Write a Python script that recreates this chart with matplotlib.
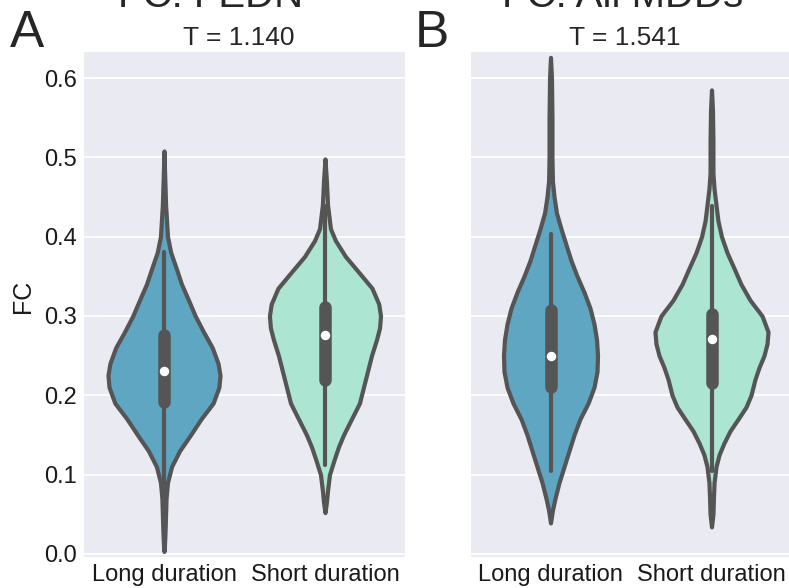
import matplotlib
matplotlib.use('Agg')
import matplotlib.pyplot as plt
import seaborn as sns

# --- dados ---
groups = ['Long duration', 'Short duration']
panel_titles = ['FC: FEDN', 'FC: All MDDs']
t_values = ['T = 1.140', 'T = 1.541']
panel_letters = ['A', 'B']
y_ticks = [0.0, 0.1, 0.2, 0.3, 0.4, 0.5, 0.6]

# contorno dos violinos: nível de FC -> meia largura (unidades do eixo x)
fedn_long_fc = [0.003, 0.01, 0.03, 0.05, 0.07, 0.09, 0.11, 0.13, 0.15, 0.17, 0.19, 0.21,
                0.225, 0.24, 0.26, 0.28, 0.30, 0.32, 0.34, 0.36, 0.38, 0.40, 0.44, 0.48, 0.508]
fedn_long_hw = [0.0, 0.003, 0.007, 0.010, 0.013, 0.022, 0.047, 0.097, 0.165, 0.230, 0.305, 0.341,
                0.348, 0.336, 0.300, 0.245, 0.194, 0.152, 0.109, 0.076, 0.042, 0.022, 0.010, 0.004, 0.0]

fedn_short_fc = [0.052, 0.065, 0.08, 0.10, 0.12, 0.135, 0.15, 0.165, 0.175, 0.19, 0.21, 0.23,
                 0.25, 0.27, 0.285, 0.30, 0.315, 0.335, 0.355, 0.375, 0.395, 0.41, 0.44, 0.47, 0.498]
fedn_short_hw = [0.0, 0.009, 0.016, 0.028, 0.059, 0.084, 0.115, 0.152, 0.177, 0.214, 0.239, 0.264,
                 0.289, 0.320, 0.339, 0.345, 0.334, 0.292, 0.210, 0.127, 0.065, 0.034, 0.016, 0.009, 0.0]

mdd_long_fc = [0.039, 0.055, 0.07, 0.09, 0.11, 0.13, 0.15, 0.17, 0.19, 0.21, 0.23, 0.25, 0.27,
               0.29, 0.31, 0.33, 0.35, 0.37, 0.39, 0.41, 0.43, 0.45, 0.47, 0.50, 0.55, 0.60, 0.626]
mdd_long_hw = [0.0, 0.012, 0.028, 0.053, 0.084, 0.115, 0.146, 0.183, 0.233, 0.270, 0.289, 0.292, 0.286,
               0.270, 0.245, 0.208, 0.165, 0.127, 0.096, 0.065, 0.037, 0.022, 0.012, 0.009, 0.009, 0.006, 0.0]

mdd_short_fc = [0.034, 0.05, 0.07, 0.09, 0.11, 0.125, 0.14, 0.155, 0.17, 0.185, 0.20, 0.22, 0.235,
                0.25, 0.265, 0.28, 0.30, 0.32, 0.34, 0.36, 0.38, 0.40, 0.42, 0.44, 0.46, 0.48, 0.52, 0.56, 0.585]
mdd_short_hw = [0.0, 0.009, 0.012, 0.016, 0.028, 0.047, 0.078, 0.115, 0.165, 0.214, 0.245, 0.270, 0.295,
                0.326, 0.345, 0.351, 0.314, 0.239, 0.183, 0.140, 0.096, 0.062, 0.040, 0.028, 0.016, 0.009, 0.009, 0.006, 0.0]

# box interno: bigode inferior, q1, mediana, q3, bigode superior
fedn_long_box = [0.070, 0.192, 0.231, 0.276, 0.380]
fedn_short_box = [0.112, 0.219, 0.276, 0.311, 0.438]
mdd_long_box = [0.105, 0.210, 0.249, 0.308, 0.403]
mdd_short_box = [0.105, 0.216, 0.271, 0.302, 0.438]

panels = [
    [(fedn_long_fc, fedn_long_hw, fedn_long_box), (fedn_short_fc, fedn_short_hw, fedn_short_box)],
    [(mdd_long_fc, mdd_long_hw, mdd_long_box), (mdd_short_fc, mdd_short_hw, mdd_short_box)],
]

colors = ['#5ea6c2', '#ade5d3']
line_color = '#555555'

sns.set_style('darkgrid')
plt.rcParams['font.family'] = ['Liberation Sans', 'DejaVu Sans']

fig = plt.figure(figsize=(7.89, 5.88), dpi=100)
ax_a = fig.add_axes([0.1058, 0.0527, 0.4081, 0.8605])
ax_b = fig.add_axes([0.5957, 0.0527, 0.4081, 0.8605], sharey=ax_a)
axes = [ax_a, ax_b]

title_x = [0.394, 0.474]
letter_x = [10 / 789, 415 / 789]

for i, ax in enumerate(axes):
    for pos, (fc, hw, box) in enumerate(panels[i]):
        left = [pos - w for w in hw]
        right = [pos + w for w in hw]
        ax.fill_betweenx(fc, left, right, facecolor=colors[pos], edgecolor=line_color,
                         linewidth=3, joinstyle='round', zorder=2)
        lo, q1, med, q3, hi = box
        ax.plot([pos, pos], [lo, hi], color=line_color, lw=3, solid_capstyle='round', zorder=3)
        ax.plot([pos, pos], [q1, q3], color=line_color, lw=9, solid_capstyle='round', zorder=4)
        ax.plot([pos], [med], 'o', color='white', markersize=5.8, zorder=5)

    ax.set_xlim(-0.5, 1.5)
    ax.set_ylim(-0.004, 0.634)
    ax.set_xticks([0, 1])
    ax.set_xticklabels(groups)
    ax.set_yticks(y_ticks)
    ax.grid(axis='x', visible=False)
    ax.grid(axis='y', color='white', linewidth=1.3)
    ax.tick_params(labelsize=17, pad=5, length=0, colors='#1a1a1a')

    # títulos (cortados no topo, como no original)
    ax.text(title_x[i], 1.088, panel_titles[i], transform=ax.transAxes,
            ha='center', va='baseline', fontsize=29)
    ax.text(0.482, 1.012, t_values[i], transform=ax.transAxes,
            ha='center', va='baseline', fontsize=19)
    fig.text(letter_x[i], 1 - 47 / 588, panel_letters[i], ha='left', va='baseline', fontsize=37)

ax_a.set_yticklabels(['%.1f' % v for v in y_ticks])
ax_a.set_ylabel('FC', fontsize=18, labelpad=6, y=0.515, color='#1a1a1a')
ax_b.tick_params(labelleft=False)

fig.savefig('out.png', dpi=100)
